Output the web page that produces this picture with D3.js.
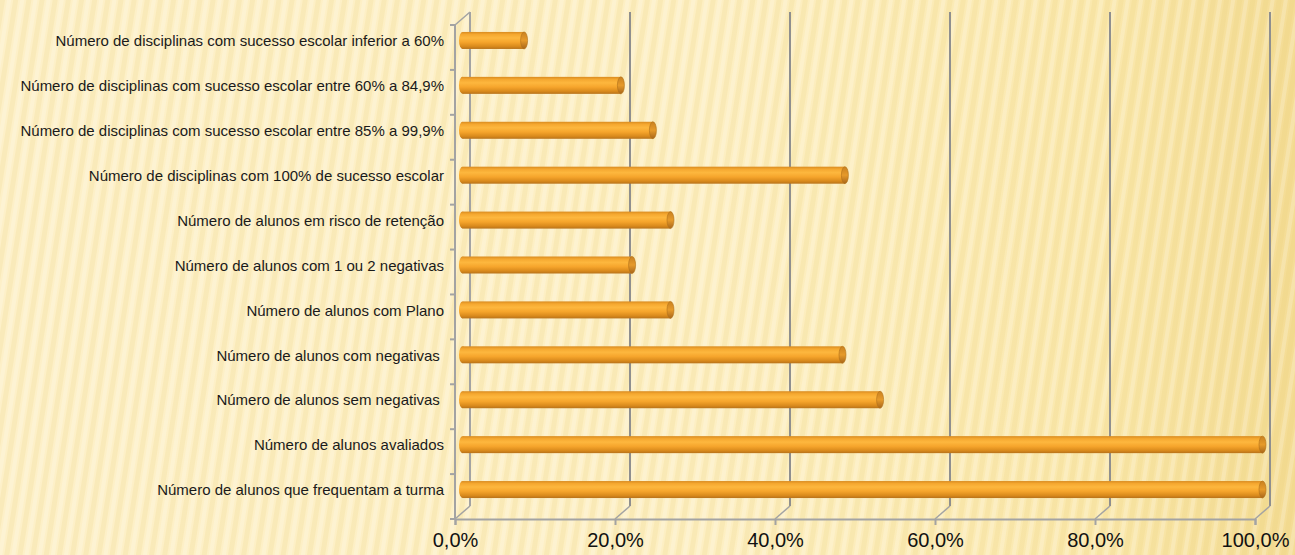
<!DOCTYPE html>
<html>
<head>
<meta charset="utf-8">
<script src="https://cdn.jsdelivr.net/npm/d3@7"></script>
<style>
  html, body { margin: 0; padding: 0; background: #fdf0c6; }
  svg { display: block; }
</style>
</head>
<body>
<svg id="chart" width="1295" height="555"></svg>
<script>
// ---- data ----
const categories = [
  "Número de disciplinas com sucesso escolar inferior a 60%",
  "Número de disciplinas com sucesso escolar entre 60% a 84,9%",
  "Número de disciplinas com sucesso escolar entre 85% a 99,9%",
  "Número de disciplinas com 100% de sucesso escolar",
  "Número de alunos em risco de retenção",
  "Número de alunos com 1 ou 2 negativas",
  "Número de alunos com Plano",
  "Número de alunos com negativas ",
  "Número de alunos sem negativas ",
  "Número de alunos avaliados",
  "Número de alunos que frequentam a turma"
];
const values = [7.7, 19.8, 23.8, 47.8, 26.0, 21.2, 26.0, 47.5, 52.2, 100, 100];
const tickValues = [0, 20, 40, 60, 80, 100];
const tickLabels = ["0,0%", "20,0%", "40,0%", "60,0%", "80,0%", "100,0%"];

// ---- layout ----
const W = 1295, H = 555;
const svg = d3.select("#chart");
const front = { left: 455, right: 1255, top: 25, bottom: 519 };
const depth = { dx: 15, dy: -13 };

const x = d3.scaleLinear().domain([0, 100]).range([front.left, front.right]);
const y = d3.scaleBand().domain(categories).range([front.top, front.bottom]).padding(0);

const defs = svg.append("defs");

// background
const bgGrad = defs.append("linearGradient").attr("id", "bgGrad")
  .attr("x1", "0").attr("y1", "0").attr("x2", "1").attr("y2", "0");
bgGrad.append("stop").attr("offset", "0%").attr("stop-color", "#fdf0c8");
bgGrad.append("stop").attr("offset", "55%").attr("stop-color", "#fdefc3");
bgGrad.append("stop").attr("offset", "85%").attr("stop-color", "#fae8ad");
bgGrad.append("stop").attr("offset", "100%").attr("stop-color", "#f4dc95");

const stripe = defs.append("pattern").attr("id", "stripes")
  .attr("patternUnits", "userSpaceOnUse").attr("width", 13).attr("height", 40)
  .attr("patternTransform", "rotate(9)");
stripe.append("rect").attr("x", 0).attr("y", 0).attr("width", 5).attr("height", 40)
  .attr("fill", "#e6c565").attr("opacity", 0.14);
stripe.append("rect").attr("x", 7).attr("y", 0).attr("width", 4).attr("height", 40)
  .attr("fill", "#ffffff").attr("opacity", 0.2);

svg.append("rect").attr("width", W).attr("height", H).attr("fill", "url(#bgGrad)");
svg.append("rect").attr("width", W).attr("height", H).attr("fill", "url(#stripes)");

// bar gradients
const barGrad = defs.append("linearGradient").attr("id", "barGrad")
  .attr("x1", "0").attr("y1", "0").attr("x2", "0").attr("y2", "1");
[["0%", "#d98b20"], ["15%", "#f5a830"], ["35%", "#fdb73e"], ["60%", "#f6a52c"], ["85%", "#d98a1c"], ["100%", "#b8721a"]]
  .forEach(([o, c]) => barGrad.append("stop").attr("offset", o).attr("stop-color", c));
const capGrad = defs.append("linearGradient").attr("id", "capGrad")
  .attr("x1", "0").attr("y1", "0").attr("x2", "0").attr("y2", "1");
[["0%", "#c98120"], ["50%", "#e69a2a"], ["100%", "#a8661a"]]
  .forEach(([o, c]) => capGrad.append("stop").attr("offset", o).attr("stop-color", c));

const gridColor = "#8f8f8f";
const axisColor = "#a3a3a3";
const g = svg.append("g");

// back wall gridlines + floor connectors
tickValues.forEach(t => {
  const xf = x(t), xb = x(t) + depth.dx;
  g.append("line").attr("x1", xb).attr("x2", xb)
    .attr("y1", front.top + depth.dy).attr("y2", front.bottom + depth.dy)
    .attr("stroke", t === 0 ? axisColor : gridColor).attr("stroke-width", 2);
  g.append("line").attr("x1", xb).attr("y1", front.bottom + depth.dy)
    .attr("x2", xf).attr("y2", front.bottom)
    .attr("stroke", axisColor).attr("stroke-width", 1.5);
});

// left wall front edge + top diagonal
g.append("line").attr("x1", front.left).attr("x2", front.left)
  .attr("y1", front.top).attr("y2", front.bottom)
  .attr("stroke", axisColor).attr("stroke-width", 2);
g.append("line").attr("x1", front.left).attr("y1", front.top)
  .attr("x2", front.left + depth.dx).attr("y2", front.top + depth.dy)
  .attr("stroke", axisColor).attr("stroke-width", 1.5);

// category boundary ticks
const bounds = categories.map(c => y(c)).concat([front.bottom]);
g.selectAll(".ytick").data(bounds).join("line")
  .attr("x1", front.left - 5).attr("x2", front.left)
  .attr("y1", d => d).attr("y2", d => d)
  .attr("stroke", axisColor).attr("stroke-width", 2);

// x axis (front floor edge)
const xAxis = d3.axisBottom(x).tickValues(tickValues)
  .tickFormat((d, i) => tickLabels[i]).tickSize(6).tickPadding(5);
const ax = svg.append("g").attr("transform", `translate(0,${front.bottom})`).call(xAxis);
ax.select(".domain").attr("stroke", axisColor).attr("stroke-width", 2);
ax.selectAll(".tick line").attr("stroke", axisColor).attr("stroke-width", 2);
ax.selectAll(".tick text")
  .attr("font-family", "'Liberation Sans', Arial, sans-serif")
  .attr("font-size", 20).attr("fill", "#111").attr("dy", "0.85em");

// bars (cylinders)
const barH = 17;
const bars = svg.append("g");
categories.forEach((c, i) => {
  const cy = y(c) + y.bandwidth() / 2 + depth.dy / 2 - 0.5;
  const x0 = x(0) + depth.dx / 2;
  const x1 = x(values[i]) + depth.dx / 2;
  const rx = 3.5;
  const bg = bars.append("g");
  bg.append("ellipse").attr("cx", x0).attr("cy", cy).attr("rx", rx).attr("ry", barH / 2)
    .attr("fill", "url(#barGrad)");
  bg.append("rect").attr("x", x0).attr("y", cy - barH / 2).attr("width", x1 - x0).attr("height", barH)
    .attr("fill", "url(#barGrad)");
  bg.append("ellipse").attr("cx", x1).attr("cy", cy).attr("rx", rx).attr("ry", barH / 2)
    .attr("fill", "url(#capGrad)").attr("stroke", "#b0701a").attr("stroke-width", 0.6);
});

// category labels
svg.append("g").selectAll("text").data(categories).join("text")
  .attr("x", 444)
  .attr("y", d => y(d) + y.bandwidth() / 2 + depth.dy / 2)
  .attr("dy", "0.35em")
  .attr("text-anchor", "end")
  .attr("font-family", "'Liberation Sans', Arial, sans-serif")
  .attr("font-size", 15)
  .attr("fill", "#1a1a1a")
  .style("white-space", "pre")
  .text(d => d);
</script>
</body>
</html>
